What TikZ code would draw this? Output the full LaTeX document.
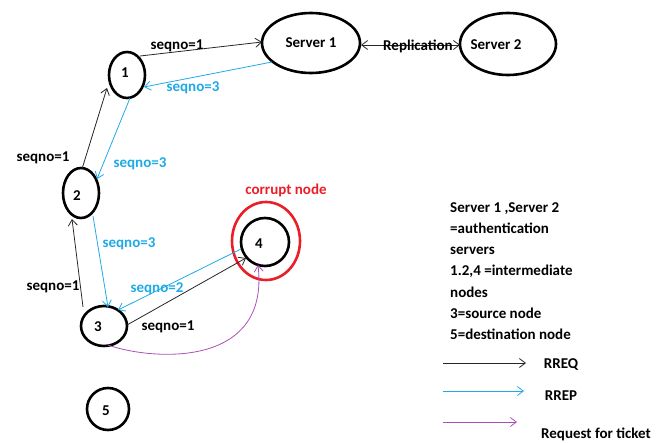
\documentclass[tikz,border=0pt]{standalone}
\usepackage{fontspec}
\setmainfont{Carlito}
\usetikzlibrary{arrows.meta}
\definecolor{rrep}{RGB}{30,170,230}
\definecolor{tick}{RGB}{170,80,180}
\definecolor{corr}{RGB}{235,30,40}
\begin{document}
\begin{tikzpicture}[x=1pt,y=-1pt,
  every node/.style={font=\bfseries\fontsize{15}{17}\selectfont},
  req/.style={draw=black!85,line width=0.8pt,-{Straight Barb[length=6pt,width=9pt]}},
  rep/.style={draw=rrep,line width=0.8pt,-{Straight Barb[length=6pt,width=9pt]}},
  tkt/.style={draw=tick,line width=0.8pt,-{Straight Barb[length=6pt,width=9pt]}},
  lbl/.style={inner sep=1pt},
  bl/.style={lbl,text=rrep},
  ring/.style={line width=2.6pt}]
\useasboundingbox (0,0) rectangle (672,442);
% nodes
\draw[ring] (311,43) ellipse [x radius=49,y radius=30];
\node (s1) at (311,43) {Server 1};
\coordinate (s1w) at (262,42);
\coordinate (s1e) at (361,45);
\draw[ring] (508,44) ellipse [x radius=48,y radius=31];
\node (s2) at (496,45) {Server 2};
\coordinate (s2w) at (460,45);
\draw[ring] (127,75) ellipse [x radius=18,y radius=23];
\node (n1) at (125,73) {1};
\draw[ring] (81,193) ellipse [x radius=18,y radius=25];
\node (n2) at (77,196) {2};
\draw[ring] (104,326) ellipse [x radius=23,y radius=20];
\node (n3) at (98,327) {3};
\draw[ring] (265,242) ellipse [x radius=24,y radius=24];
\node (n4) at (259,244) {4};
\draw[ring,corr] (266,241) ellipse [x radius=34,y radius=39];
\node[text=corr] (cn) at (286,190) {corrupt node};
\draw[ring] (108,409) circle [radius=21];
\node (n5) at (106,411) {5};
% connectors
\draw[req] (140,56) -- (s1w);
\node[lbl] (l1) at (177,46) {seqno=1};
\draw[rep] (272,62) -- (144,87);
\node[bl] (l2) at (193,88) {seqno=3};
\draw[draw=black!85,line width=0.8pt,{Straight Barb[length=6pt,width=9pt]}-{Straight Barb[length=6pt,width=9pt]}] (s1e) -- (s2w);
\node[lbl] (lr) at (418,46) {Replication};
\draw[req] (82,169) -- (107,88);
\node[lbl] (l3) at (43,158) {seqno=1};
\draw[rep] (130,98) -- (97,179);
\node[bl] (l4) at (140,164) {seqno=3};
\draw[req] (83,307) -- (72,219);
\node[lbl] (l5) at (53,287) {seqno=1};
\draw[rep] (93,216) -- (108,307);
\node[bl] (l6) at (129,244) {seqno=3};
\draw[rep] (241,249) -- (118,310);
\node[bl] (l7) at (157,289) {seqno=2};
\draw[req] (127,325) -- (246,258);
\node[lbl] (l8) at (168,327) {seqno=1};
\draw[tkt] (108,345) .. controls (150,360) and (270,370) .. (258,265);
% legend
\node[anchor=north west,align=left,inner sep=0pt,font=\bfseries\fontsize{15}{21.3}\selectfont] (leg) at (450,202)
 {Server 1 ,Server 2\\=authentication\\servers\\1.2,4 =intermediate\\nodes\\3=source node\\5=destination node};
\coordinate (a1) at (443,363); \coordinate (b1) at (526,363);
\draw[req] (a1) -- (b1);
\node (rreq) at (561,365) {RREQ};
\coordinate (a2) at (443,391); \coordinate (b2) at (524,391);
\draw[rep] (a2) -- (b2);
\node (rrep) at (561,396) {RREP};
\coordinate (a3) at (443,422); \coordinate (b3) at (517,422);
\draw[tkt] (a3) -- (b3);
\node (rft) at (596,434) {Request for ticket};
\end{tikzpicture}
\end{document}
